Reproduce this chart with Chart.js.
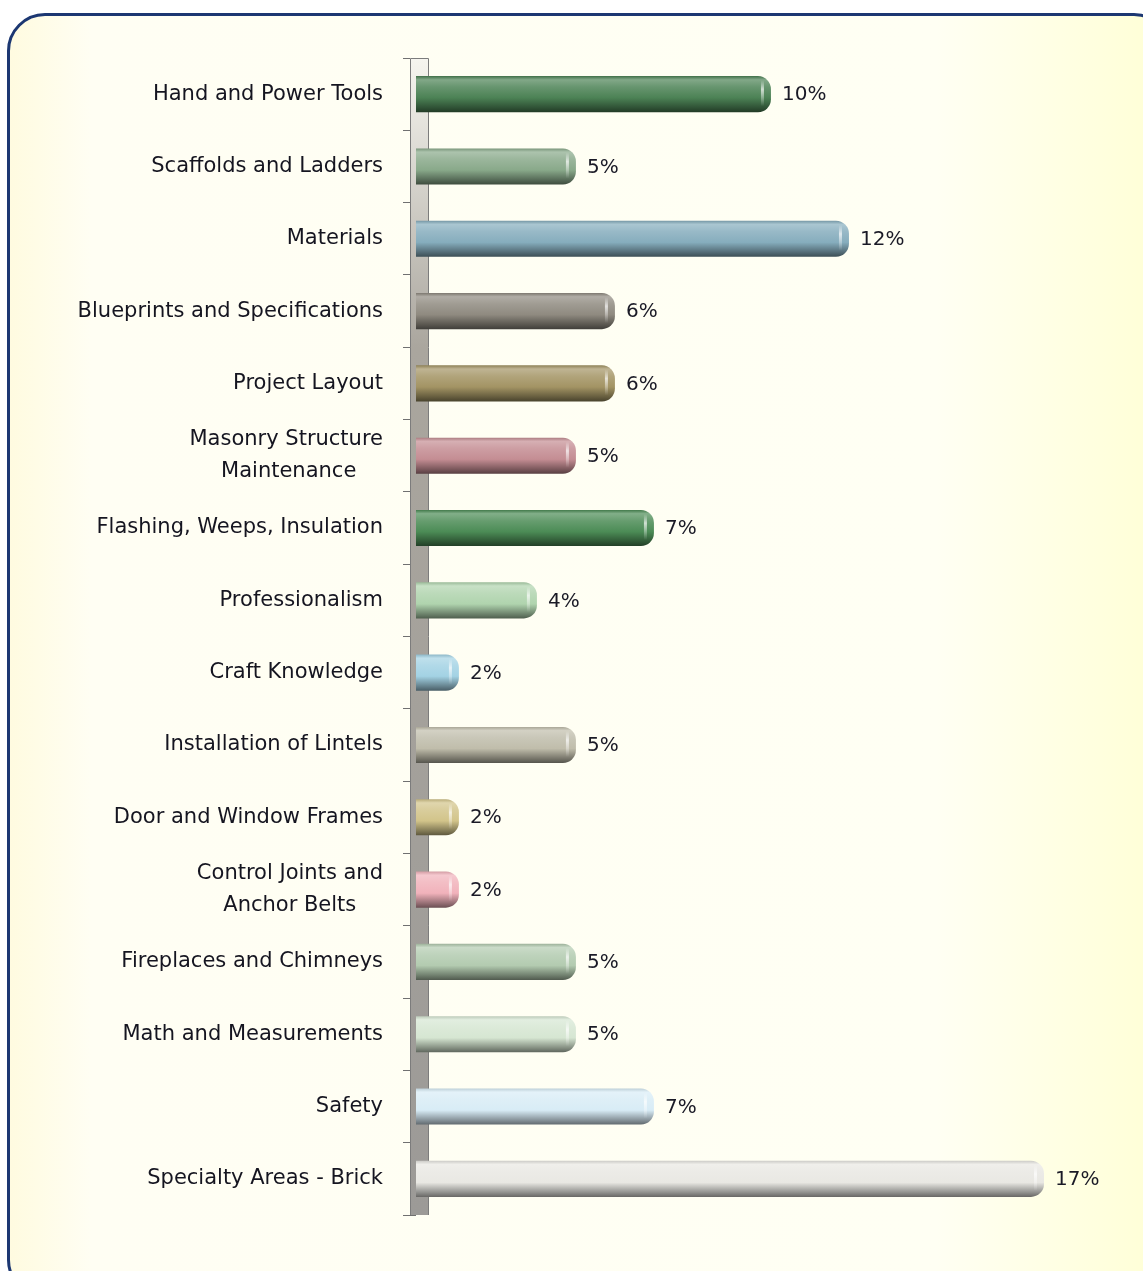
<!DOCTYPE html>
<html>
<head>
<meta charset="utf-8">
<script src="https://cdn.jsdelivr.net/npm/chart.js@4.4.1/dist/chart.umd.min.js"></script>
<style>
html, body { margin: 0; padding: 0; width: 1143px; height: 1271px; overflow: hidden; background: #fff; }
#panel {
    position: absolute; left: 7px; top: 13px; width: 1165px; height: 1285px;
    box-sizing: border-box; border: 3px solid #1c3772; border-radius: 38px;
    background: linear-gradient(to right, #fffbe0 0%, #fffef3 7%, #fffff3 80%, #ffffd8 98%);
}
#chart { position: absolute; left: 0; top: 0; }
</style>
</head>
<body>
<div id="panel"></div>
<canvas id="chart" width="1143" height="1271"></canvas>
<script>
// categories, top to bottom
var categories = [
    'Hand and Power Tools',
    'Scaffolds and Ladders',
    'Materials',
    'Blueprints and Specifications',
    'Project Layout',
    ['Masonry Structure', 'Maintenance'],
    'Flashing, Weeps, Insulation',
    'Professionalism',
    'Craft Knowledge',
    'Installation of Lintels',
    'Door and Window Frames',
    ['Control Joints and', 'Anchor Belts'],
    'Fireplaces and Chimneys',
    'Math and Measurements',
    'Safety',
    'Specialty Areas - Brick'
];

// percent of the exam
var shares = [10, 5, 12, 6, 6, 5, 7, 4, 2, 5, 2, 2, 5, 5, 7, 17];

var barColors = [
    '#4c8255', '#89a98a', '#86adbd', '#8f8a80', '#a39464', '#c48d93',
    '#4c8c56', '#b0d4ae', '#a3d2e4', '#c0bdab', '#d2c48a', '#f1b2bb',
    '#b3cbb0', '#d6e6d2', '#d8ecf6', '#e9e8e3'
];

var labelFont = '"DejaVu Sans", sans-serif';
var labelSize = 21;

function hexToRgb(hex) {
    var n = parseInt(hex.slice(1), 16);
    return [(n >> 16) & 255, (n >> 8) & 255, n & 255];
}

function mix(hex, other, amount) {
    var a = hexToRgb(hex), b = hexToRgb(other);
    var out = a.map(function (v, i) { return Math.round(v + (b[i] - v) * amount); });
    return 'rgb(' + out.join(',') + ')';
}

// cylinder look for each bar
function barFill(context) {
    var chart = context.chart;
    var c = barColors[context.dataIndex];
    var y = chart.scales.y;
    if (!y || !chart.chartArea) return c;
    var mid = y.getPixelForValue(context.dataIndex);
    var half = 18;
    var g = chart.ctx.createLinearGradient(0, mid - half, 0, mid + half);
    g.addColorStop(0, mix(c, '#000000', 0.12));
    g.addColorStop(0.1, mix(c, '#ffffff', 0.3));
    g.addColorStop(0.3, mix(c, '#ffffff', 0.15));
    g.addColorStop(0.6, c);
    g.addColorStop(0.88, mix(c, '#000000', 0.38));
    g.addColorStop(1, mix(c, '#000000', 0.55));
    return g;
}

// centre the lines of two-line labels on each other
var measureCtx = document.createElement('canvas').getContext('2d');
measureCtx.font = labelSize + 'px ' + labelFont;
function centerLines(label) {
    if (!Array.isArray(label)) return label;
    var widths = label.map(function (l) { return measureCtx.measureText(l).width; });
    var max = Math.max.apply(null, widths);
    var space = measureCtx.measureText('\u00a0').width;
    return label.map(function (l, i) {
        return l + '\u00a0'.repeat(Math.round((max - widths[i]) / 2 / space));
    });
}

var axisWall = {
    id: 'axisWall',
    beforeDatasetsDraw: function (chart) {
        var a = chart.chartArea, ctx = chart.ctx;
        var x0 = a.left - 6, x1 = a.left + 12;
        var g = ctx.createLinearGradient(0, a.top, 0, a.bottom);
        g.addColorStop(0, '#f6f5ef');
        g.addColorStop(0.25, '#aaa69e');
        g.addColorStop(1, '#9c9a97');
        ctx.save();
        ctx.fillStyle = g;
        ctx.fillRect(x0, a.top, x1 - x0, a.bottom - a.top);
        ctx.strokeStyle = '#7c7c7c';
        ctx.lineWidth = 1;
        ctx.beginPath();
        ctx.moveTo(x0 + 0.5, a.bottom);
        ctx.lineTo(x0 + 0.5, a.top + 0.5);
        ctx.lineTo(x1 + 0.5, a.top + 0.5);
        ctx.lineTo(x1 + 0.5, a.bottom);
        ctx.stroke();
        ctx.restore();
    }
};

var valueLabels = {
    id: 'valueLabels',
    afterDatasetsDraw: function (chart) {
        var ctx = chart.ctx;
        var meta = chart.getDatasetMeta(0);
        ctx.save();
        meta.data.forEach(function (bar) {
            // small shine on the rounded end
            var g = ctx.createLinearGradient(0, bar.y - 14, 0, bar.y + 12);
            g.addColorStop(0, 'rgba(255,255,255,0)');
            g.addColorStop(0.35, 'rgba(255,255,255,0.7)');
            g.addColorStop(1, 'rgba(255,255,255,0)');
            ctx.fillStyle = g;
            ctx.fillRect(bar.x - 10, bar.y - 14, 3, 26);
        });
        ctx.font = '20px ' + labelFont;
        ctx.fillStyle = '#1a1a26';
        ctx.textBaseline = 'middle';
        meta.data.forEach(function (bar, i) {
            ctx.fillText(shares[i] + '%', bar.x + 11, bar.y + 1);
        });
        ctx.restore();
    }
};

new Chart(document.getElementById('chart'), {
    type: 'bar',
    data: {
        labels: categories,
        datasets: [{
            data: shares,
            backgroundColor: barFill,
            borderWidth: 0,
            borderRadius: 13,
            borderSkipped: 'start',
            barPercentage: 0.5,
            categoryPercentage: 1
        }]
    },
    options: {
        indexAxis: 'y',
        responsive: false,
        animation: false,
        layout: { padding: { top: 58, bottom: 56, left: 0, right: 21 } },
        scales: {
            x: {
                display: false,
                min: 0.9,
                max: 19
            },
            y: {
                afterFit: function (scale) { scale.width = 416; },
                grid: {
                    drawOnChartArea: false,
                    drawTicks: true,
                    tickLength: 13,
                    color: '#707070',
                    offset: true
                },
                border: { display: false },
                ticks: {
                    padding: 20,
                    color: '#151520',
                    font: { family: labelFont, size: labelSize, lineHeight: 1.52 },
                    callback: function (value) {
                        return centerLines(this.getLabelForValue(value));
                    }
                }
            }
        },
        plugins: {
            legend: { display: false },
            tooltip: { enabled: false }
        }
    },
    plugins: [axisWall, valueLabels]
});
</script>
</body>
</html>
